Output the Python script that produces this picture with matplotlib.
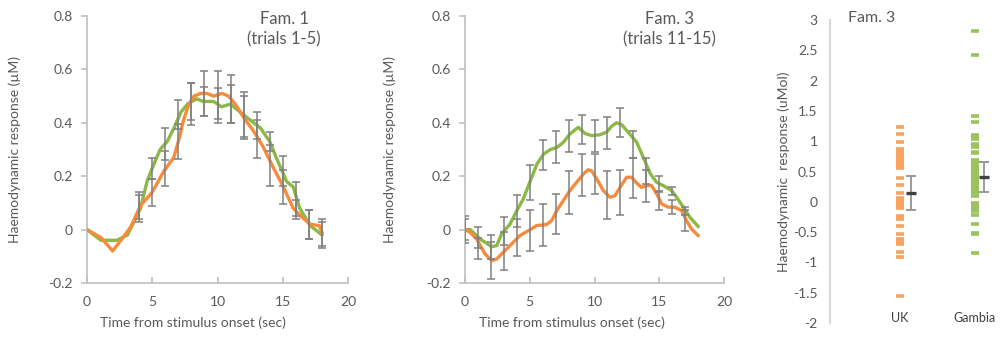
import numpy as np
import matplotlib.pyplot as plt
from matplotlib.ticker import FuncFormatter

plt.rcParams['font.family'] = ['Lato', 'DejaVu Sans']

# Panel 1 - Fam. 1 (trials 1-5)
t1_green = [0, 1.07, 2.3, 3.1, 4.1, 4.6, 5.0, 5.6, 6.15, 6.66, 7.2, 7.7, 8.4, 8.9, 9.7, 10.3, 11.0, 11.5, 12.25, 13.3, 14.0, 14.5, 15.3, 15.8, 16.3, 17.1, 18.0]
y1_green = [0, -0.04, -0.04, -0.02, 0.08, 0.18, 0.23, 0.30, 0.33, 0.38, 0.44, 0.47, 0.49, 0.48, 0.48, 0.46, 0.47, 0.45, 0.42, 0.38, 0.33, 0.27, 0.18, 0.16, 0.08, 0.015, -0.02]
t1_orange = [0, 1.07, 1.96, 2.6, 3.35, 4.1, 5.0, 5.9, 6.65, 7.0, 7.4, 7.8, 8.2, 8.7, 9.2, 9.7, 10.35, 10.85, 11.36, 12.0, 12.75, 13.5, 14.3, 15.05, 15.8, 16.4, 17.1, 17.8, 18.0]
y1_orange = [0, -0.03, -0.08, -0.04, 0.01, 0.09, 0.14, 0.22, 0.27, 0.33, 0.41, 0.47, 0.50, 0.51, 0.51, 0.50, 0.51, 0.50, 0.47, 0.42, 0.37, 0.31, 0.23, 0.16, 0.08, 0.05, 0.02, 0.015, -0.01]

bar1_x = [4, 5, 6, 7, 8, 9, 10, 11, 12, 13, 14, 15, 16, 17, 18]
bar1_green = [0.09, 0.23, 0.32, 0.43, 0.48, 0.48, 0.465, 0.47, 0.43, 0.39, 0.33, 0.22, 0.11, 0.02, -0.02]
err1_green = [0.05, 0.04, 0.06, 0.055, 0.07, 0.055, 0.065, 0.07, 0.085, 0.05, 0.035, 0.055, 0.07, 0.055, 0.05]
bar1_orange = [0.08, 0.14, 0.23, 0.33, 0.47, 0.51, 0.505, 0.49, 0.42, 0.34, 0.24, 0.16, 0.08, 0.02, -0.01]
err1_orange = [0.05, 0.05, 0.065, 0.065, 0.08, 0.085, 0.09, 0.09, 0.08, 0.07, 0.075, 0.065, 0.03, 0.055, 0.05]

# Panel 2 - Fam. 3 (trials 11-15)
t2_green = [0, 0.4, 1.16, 2.06, 2.45, 2.83, 3.47, 3.99, 4.5, 5.0, 5.56, 6.07, 6.6, 7.1, 7.6, 8.1, 8.75, 9.27, 9.78, 10.4, 10.94, 11.3, 11.7, 12.1, 12.6, 13.26, 13.77, 14.3, 14.8, 15.3, 15.96, 16.34, 16.86, 17.37, 18.0]
y2_green = [0, 0, -0.035, -0.064, -0.06, -0.016, 0.02, 0.07, 0.115, 0.177, 0.246, 0.283, 0.30, 0.308, 0.327, 0.358, 0.383, 0.36, 0.352, 0.355, 0.365, 0.386, 0.40, 0.393, 0.365, 0.327, 0.27, 0.21, 0.177, 0.165, 0.146, 0.121, 0.084, 0.046, 0.012]
t2_orange = [0, 0.39, 0.9, 1.54, 2.06, 2.45, 2.96, 3.47, 4.25, 4.9, 5.53, 6.3, 6.7, 7.08, 7.6, 8.1, 8.62, 9.14, 9.5, 9.78, 10.17, 10.68, 11.2, 11.58, 11.97, 12.48, 12.87, 13.26, 13.64, 14.03, 14.4, 14.8, 15.19, 15.7, 16.2, 16.73, 17.1, 17.5, 18.0]
y2_orange = [0, -0.01, -0.035, -0.091, -0.116, -0.11, -0.085, -0.06, -0.022, -0.004, 0.015, 0.019, 0.034, 0.071, 0.109, 0.146, 0.177, 0.208, 0.224, 0.22, 0.19, 0.146, 0.121, 0.127, 0.158, 0.196, 0.196, 0.174, 0.158, 0.165, 0.165, 0.134, 0.096, 0.084, 0.084, 0.071, 0.034, 0.002, -0.022]

bar2_x = [0, 1, 2, 3, 4, 5, 6, 7, 8, 9, 10, 11, 12, 13, 14, 15, 16, 17]
bar2_green = [0, -0.03, -0.064, -0.005, 0.07, 0.177, 0.28, 0.31, 0.35, 0.375, 0.35, 0.36, 0.40, 0.32, 0.22, 0.17, 0.145, 0.07]
err2_green = [0.04, 0.04, 0.045, 0.054, 0.06, 0.065, 0.055, 0.06, 0.06, 0.055, 0.06, 0.06, 0.055, 0.05, 0.05, 0.03, 0.015, 0.015]
bar2_orange = [0, -0.07, -0.116, -0.08, -0.03, -0.004, 0.018, 0.06, 0.14, 0.205, 0.21, 0.13, 0.14, 0.195, 0.165, 0.11, 0.085, 0.035]
err2_orange = [0.05, 0.04, 0.07, 0.07, 0.07, 0.078, 0.078, 0.075, 0.08, 0.078, 0.075, 0.09, 0.085, 0.075, 0.06, 0.035, 0.025, 0.04]

# Panel 3 - individual responses
groups = ['UK', 'Gambia']
uk_vals = [1.23, 1.12, 0.98, 0.87, 0.83, 0.78, 0.72, 0.68, 0.65, 0.63, 0.61, 0.59, 0.57, 0.55, 0.39, 0.27, 0.15,
           0.06, 0.04, 0.03, 0.01, 0.0, -0.02, -0.04, -0.05, -0.07, -0.08, -0.10, -0.23, -0.29, -0.40,
           -0.53, -0.61, -0.64, -0.69, -0.83, -0.91, -1.55]
gambia_vals = [2.82, 2.42, 1.42, 1.31, 1.10, 1.07, 1.03, 0.95, 0.91, 0.83, 0.80, 0.69, 0.65, 0.61, 0.57, 0.52,
               0.48, 0.44, 0.39, 0.36, 0.33, 0.29, 0.25, 0.21, 0.18, 0.15, 0.10, -0.02, -0.07, -0.11, -0.16,
               -0.21, -0.37, -0.51, -0.53, -0.85]
group_means = [0.15, 0.41]
group_errs = [0.28, 0.245]

GREEN = '#8cb845'
ORANGE = '#f68b3c'
GREY_BAR = '#808080'
TXT = '#595959'
SPINE = '#bfbfbf'

fig = plt.figure(figsize=(10, 3.38), dpi=100)
ax1 = fig.add_axes([0.087, 0.1627, 0.261, 0.79])
ax2 = fig.add_axes([0.465, 0.1627, 0.259, 0.79])
ax3 = fig.add_axes([0.830, 0.0444, 0.175, 0.8964])


def style_line_axes(ax):
    for s in ['top', 'right']:
        ax.spines[s].set_visible(False)
    for s in ['left', 'bottom']:
        ax.spines[s].set_color(SPINE)
        ax.spines[s].set_linewidth(1.2)
    ax.set_xlim(0, 20)
    ax.set_ylim(-0.2, 0.8)
    ax.set_xticks([0, 5, 10, 15, 20])
    ax.set_yticks([-0.2, 0, 0.2, 0.4, 0.6, 0.8])
    ax.yaxis.set_major_formatter(FuncFormatter(lambda v, p: '%g' % round(v, 1)))
    ax.tick_params(colors=SPINE, labelcolor=TXT, labelsize=10, width=1.2)
    ax.tick_params(axis='y', direction='out', length=4, pad=6)
    ax.tick_params(axis='x', direction='in', length=4, pad=9)


panels = [
    (ax1, t1_green, y1_green, t1_orange, y1_orange, bar1_x, bar1_green, err1_green, bar1_orange, err1_orange,
     'Fam. 1', '(trials 1-5)', 0.755, -0.253, 0.406),
    (ax2, t2_green, y2_green, t2_orange, y2_orange, bar2_x, bar2_green, err2_green, bar2_orange, err2_orange,
     'Fam. 3', '(trials 11-15)', 0.79, -0.266, 0.413),
]
for ax, tg, yg, to, yo, bx, bg, eg, bo, eo, t_a, t_b, tx, ylx, xlx in panels:
    style_line_axes(ax)
    ax.plot(tg, yg, color=GREEN, lw=2.4, zorder=2)
    ax.plot(to, yo, color=ORANGE, lw=2.4, zorder=3)
    ax.errorbar(bx, bg, yerr=eg, fmt='none', ecolor=GREY_BAR, elinewidth=1.3, capsize=3, capthick=1.3, alpha=0.85, zorder=4)
    ax.errorbar(bx, bo, yerr=eo, fmt='none', ecolor=GREY_BAR, elinewidth=1.3, capsize=3, capthick=1.3, alpha=0.85, zorder=4)
    ax.set_ylabel('Haemodynamic response (µM)', color=TXT, fontsize=10)
    ax.yaxis.set_label_coords(ylx, 0.5)
    ax.set_xlabel('Time from stimulus onset (sec)', color=TXT, fontsize=10)
    ax.xaxis.set_label_coords(xlx, -0.125)
    ax.text(tx, 0.989, t_a, transform=ax.transAxes, ha='center', va='center', color=TXT, fontsize=12)
    ax.text(tx, 0.914, t_b, transform=ax.transAxes, ha='center', va='center', color=TXT, fontsize=12)

# Panel 3
for s in ['top', 'right', 'bottom']:
    ax3.spines[s].set_visible(False)
ax3.spines['left'].set_color('#d9d9d9')
ax3.spines['left'].set_linewidth(1.5)
ax3.set_ylim(-2, 3)
ax3.set_xlim(0.07, 2.40)
ax3.set_yticks(np.arange(-2, 3.01, 0.5))
ax3.yaxis.set_major_formatter(FuncFormatter(lambda v, p: '%g' % v))
ax3.tick_params(axis='y', length=0, pad=9, labelcolor=TXT, labelsize=10)
ax3.set_xticks([1, 2])
ax3.set_xticklabels(groups)
ax3.tick_params(axis='x', length=0, pad=-8, labelcolor='#404040', labelsize=9)

ax3.plot([1] * len(uk_vals), uk_vals, ls='none', marker='_', ms=6, mew=2.6, color='#f9a35e')
ax3.plot([2] * len(gambia_vals), gambia_vals, ls='none', marker='_', ms=6, mew=2.6, color='#9cc25e')
ax3.errorbar([1.15, 2.12], group_means, yerr=group_errs, fmt='none', ecolor='#9a9a9a', elinewidth=1.4,
             capsize=3.5, capthick=1.4)
ax3.plot([1.15, 2.12], group_means, ls='none', marker='_', ms=7, mew=2.4, color='#404040')
ax3.set_ylabel('Haemodynamic  response (uMol)', color=TXT, fontsize=10)
ax3.yaxis.set_label_coords(-0.23, 0.5)
ax3.text(0.10, 1.007, 'Fam. 3', transform=ax3.transAxes, ha='left', va='center', color=TXT, fontsize=11.5)

fig.savefig('out.png', dpi=100)
